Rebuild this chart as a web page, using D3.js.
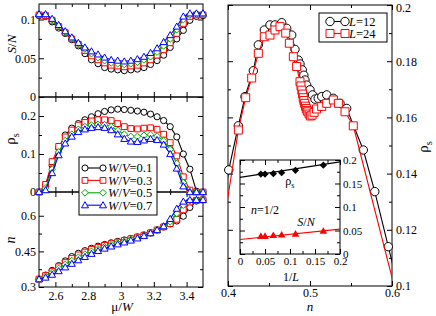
<!DOCTYPE html>
<html>
<head>
<meta charset="utf-8">
<script src="https://cdn.jsdelivr.net/npm/d3@7"></script>
<style>
  body { margin: 0; background: #fff; }
</style>
</head>
<body>
<div id="chart"></div>
<script>
// ---- data: left column, vs mu/W, four W/V values ----
var mu = [2.50, 2.54, 2.58, 2.62, 2.66, 2.70, 2.74, 2.78, 2.82, 2.86, 2.90, 2.94, 2.98,
          3.02, 3.06, 3.10, 3.14, 3.18, 3.22, 3.26, 3.30, 3.34, 3.38, 3.42, 3.46, 3.50];
var wvLabels = ["0.1", "0.3", "0.5", "0.7"];

var snW01 = [0.105,0.104,0.097,0.089,0.082,0.074,0.066,0.056,0.048,0.043,0.038,0.036,0.035,0.034,0.035,0.036,0.038,0.042,0.047,0.054,0.064,0.075,0.086,0.099,0.104,0.105];
var snW03 = [0.106,0.105,0.099,0.091,0.083,0.075,0.068,0.060,0.053,0.048,0.044,0.041,0.040,0.039,0.040,0.041,0.044,0.048,0.054,0.061,0.070,0.082,0.095,0.104,0.106,0.106];
var snW05 = [0.106,0.106,0.100,0.092,0.084,0.076,0.069,0.062,0.056,0.051,0.047,0.044,0.043,0.042,0.043,0.045,0.048,0.052,0.058,0.066,0.075,0.087,0.100,0.106,0.107,0.107];
var snW07 = [0.107,0.107,0.101,0.093,0.085,0.077,0.070,0.064,0.059,0.055,0.051,0.048,0.047,0.046,0.047,0.049,0.052,0.057,0.063,0.071,0.080,0.091,0.104,0.108,0.108,0.108];

var rhoW01 = [0.0,0.015,0.07,0.115,0.15,0.168,0.18,0.19,0.198,0.206,0.212,0.216,0.218,0.217,0.215,0.213,0.21,0.205,0.198,0.188,0.172,0.145,0.10,0.06,0.002,0.0];
var rhoW03 = [0.0,0.02,0.08,0.12,0.145,0.163,0.176,0.183,0.187,0.19,0.19,0.188,0.18,0.172,0.167,0.166,0.168,0.169,0.165,0.152,0.13,0.095,0.04,0.005,0.0,0.0];
var rhoW05 = [0.0,0.01,0.06,0.105,0.135,0.152,0.165,0.172,0.176,0.178,0.177,0.172,0.162,0.152,0.146,0.146,0.149,0.151,0.147,0.135,0.112,0.075,0.025,0.0,0.0,0.0];
var rhoW07 = [0.0,0.005,0.05,0.097,0.128,0.146,0.158,0.165,0.169,0.171,0.169,0.163,0.152,0.14,0.133,0.132,0.136,0.14,0.137,0.125,0.1,0.062,0.015,0.0,0.0,0.0];

var nW01 = [0.333,0.35,0.37,0.39,0.41,0.428,0.442,0.453,0.463,0.472,0.479,0.486,0.492,0.498,0.504,0.511,0.519,0.528,0.54,0.553,0.566,0.578,0.598,0.635,0.662,0.667];
var nW03 = [0.333,0.348,0.365,0.385,0.403,0.42,0.435,0.447,0.458,0.467,0.475,0.482,0.489,0.496,0.503,0.51,0.518,0.528,0.54,0.553,0.567,0.585,0.625,0.658,0.665,0.667];
var nW05 = [0.333,0.345,0.36,0.378,0.395,0.411,0.425,0.438,0.45,0.46,0.469,0.477,0.485,0.492,0.5,0.508,0.517,0.528,0.54,0.555,0.575,0.61,0.645,0.664,0.666,0.667];
var nW07 = [0.333,0.34,0.352,0.367,0.383,0.398,0.413,0.427,0.44,0.452,0.462,0.471,0.48,0.488,0.496,0.505,0.515,0.527,0.54,0.556,0.587,0.63,0.66,0.667,0.667,0.667];

// ---- data: right panel, rho_s vs n ----
var nL12 = [0.39,0.4009,0.4126,0.4207,0.4309,0.437,0.4443,0.4512,0.4573,0.4655,0.4716,0.4777,0.4817,0.4857,0.4878,0.4906,0.4925,0.4939,0.496,0.5,0.503,0.5061,0.51,0.5143,0.5204,0.5284,0.5366,0.5447,0.565,0.579,0.5955,0.61];
var rhoL12 = [0.118,0.1413,0.157,0.1674,0.1766,0.1858,0.1911,0.1929,0.1929,0.1937,0.1917,0.1893,0.1842,0.1804,0.179,0.1769,0.175,0.1733,0.1715,0.1698,0.168,0.1665,0.1668,0.1674,0.168,0.1668,0.165,0.1632,0.1484,0.1336,0.114,0.0967];
var nL24 = [0.39,0.4126,0.4216,0.4289,0.437,0.4443,0.4512,0.4573,0.4634,0.4704,0.4748,0.4797,0.4837,0.4878,0.489,0.49,0.491,0.4918,0.4925,0.4935,0.4945,0.4955,0.4965,0.4975,0.499,0.5005,0.5025,0.505,0.508,0.5143,0.5204,0.5285,0.5346,0.5427,0.5528,0.61];
var rhoL24 = [0.113,0.1555,0.167,0.174,0.1828,0.1887,0.1893,0.1911,0.1923,0.19,0.1864,0.1816,0.1781,0.1727,0.1712,0.1697,0.1683,0.167,0.166,0.165,0.164,0.1632,0.1625,0.162,0.1612,0.1605,0.1608,0.1618,0.163,0.1639,0.165,0.1662,0.165,0.162,0.157,0.0916];
var lLabels = ["12", "24"];

// ---- data: inset, n=1/2 vs 1/L ----
var invL = [0.0417, 0.05, 0.0667, 0.0833, 0.111, 0.1667];
var insetRho = [0.170, 0.170, 0.171, 0.173, 0.178, 0.189];
var insetSN = [0.038, 0.038, 0.040, 0.041, 0.043, 0.049];
var fitX = [0, 0.2];
var fitRho = [0.163, 0.196];
var fitSN = [0.031, 0.053];

var W = 436, H = 316;
var serif = "Liberation Serif, DejaVu Serif, serif";

var svg = d3.select("#chart").append("svg")
    .attr("width", W)
    .attr("height", H)
    .attr("font-family", serif);

// scales
var muX = d3.scaleLinear().domain([2.5, 3.5]).range([39, 203]);
var snY = d3.scaleLinear().domain([0, 0.12]).range([97, 4]);
var rhoY = d3.scaleLinear().domain([0, 0.25]).range([192, 97]);
var nY = d3.scaleLinear().domain([0.3, 0.7]).range([287, 192]);

var nX = d3.scaleLinear().domain([0.4, 0.6]).range([228, 392]);
var rY = d3.scaleLinear().domain([0.1, 0.2]).range([286, 5]);

var inX = d3.scaleLinear().domain([0, 0.2]).range([240, 340]);
var inY = d3.scaleLinear().domain([0, 0.2]).range([254, 160]);

function fmt(d) { return String(+d.toFixed(3)); }

// marker shapes (xmgrace-like)
function sym(shape, s) {
    if (shape == "circle")
        return "M" + (-s) + ",0A" + s + "," + s + " 0 1,0 " + s + ",0A" + s + "," + s + " 0 1,0 " + (-s) + ",0Z";
    if (shape == "square")
        return "M" + (-s) + "," + (-s) + "h" + (2 * s) + "v" + (2 * s) + "h" + (-2 * s) + "Z";
    if (shape == "diamond")
        return "M0," + (-s) + "L" + s + ",0L0," + s + "L" + (-s) + ",0Z";
    // triangle up
    return "M0," + (-s) + "L" + s + "," + (0.75 * s) + "L" + (-s) + "," + (0.75 * s) + "Z";
}

// box with inward ticks on all four sides
function frame(x, y, o) {
    var g = svg.append("g");
    var x0 = x.range()[0], x1 = x.range()[1], y0 = y.range()[0], y1 = y.range()[1];
    g.append("rect")
        .attr("x", x0).attr("y", y1)
        .attr("width", x1 - x0).attr("height", y0 - y1)
        .attr("fill", o.fill || "none")
        .attr("stroke", "#000");
    function ax(axis, tr, vals, size, labels, pad) {
        var a = g.append("g").attr("transform", tr)
            .call(axis.tickValues(vals).tickSize(size).tickPadding(pad).tickFormat(labels ? fmt : ""));
        a.select(".domain").remove();
        a.attr("font-family", serif).attr("font-size", o.fs);
        if (!labels) a.selectAll("text").remove();
        return a;
    }
    var xb = ax(d3.axisBottom(x), "translate(0," + y0 + ")", o.xMajor, -5, o.xLab, o.xPad);
    ax(d3.axisBottom(x), "translate(0," + y0 + ")", o.xMinor, -3, false, 0);
    ax(d3.axisTop(x), "translate(0," + y1 + ")", o.xMajor, -5, false, 0);
    ax(d3.axisTop(x), "translate(0," + y1 + ")", o.xMinor, -3, false, 0);
    var yl = ax(d3.axisLeft(y), "translate(" + x0 + ",0)", o.yMajor, -5, o.yLab == "left", o.yPad);
    ax(d3.axisLeft(y), "translate(" + x0 + ",0)", o.yMinor, -3, false, 0);
    var yr = ax(d3.axisRight(y), "translate(" + x1 + ",0)", o.yMajor, -5, o.yLab == "right", o.yPad);
    ax(d3.axisRight(y), "translate(" + x1 + ",0)", o.yMinor, -3, false, 0);
    return {g: g, xb: xb, yl: yl, yr: yr};
}

// one data set: line + markers
function series(xs, ys, x, y, color, shape, size, fill, clipId) {
    var pts = xs.map(function(v, i) { return [v, ys[i]]; });
    var line = d3.line()
        .x(function(d) { return x(d[0]); })
        .y(function(d) { return y(d[1]); });
    var p = svg.append("path").datum(pts)
        .attr("d", line)
        .attr("fill", "none")
        .attr("stroke", color)
        .attr("stroke-width", 1.1);
    if (clipId) p.attr("clip-path", "url(#" + clipId + ")");
    var xd = x.domain(), yd = y.domain();
    svg.append("g").selectAll("path")
        .data(pts.filter(function(d) {
            return d[0] >= xd[0] && d[0] <= xd[1] && d[1] >= yd[0] && d[1] <= yd[1];
        }))
        .join("path")
        .attr("transform", function(d) { return "translate(" + x(d[0]) + "," + y(d[1]) + ")"; })
        .attr("d", sym(shape, size))
        .attr("fill", fill)
        .attr("stroke", color)
        .attr("stroke-width", 1);
}

// text helper: parts = [[string, style], ...]
function rich(x, y, parts, fs, rot, anchor) {
    var t = svg.append("text")
        .attr("font-size", fs)
        .attr("text-anchor", anchor || "start");
    if (rot) t.attr("transform", "translate(" + x + "," + y + ") rotate(-90)");
    else t.attr("x", x).attr("y", y);
    parts.forEach(function(p) {
        var s = t.append("tspan").text(p[0]);
        if (p[1] == "i") s.attr("font-style", "italic");
        if (p[1] == "sub") s.attr("font-size", fs * 0.7).attr("dy", fs * 0.25);
    });
    return t;
}

var colors = ["#000000", "#ff0000", "#00aa00", "#0000ff"];
var shapes = ["circle", "square", "diamond", "triangle"];
var sizes = [3.1, 2.9, 3.4, 3.5];

// ---- left column ----
var leftTicks = {xMajor: [2.6, 2.8, 3, 3.2, 3.4], xMinor: [2.7, 2.9, 3.1, 3.3], fs: 12, xPad: 4, yPad: 3, yLab: "left"};

frame(muX, snY, Object.assign({}, leftTicks, {yMajor: [0, 0.05, 0.1], yMinor: [0.025, 0.075], xLab: false}));
frame(muX, rhoY, Object.assign({}, leftTicks, {yMajor: [0, 0.1, 0.2], yMinor: [0.05, 0.15], xLab: false}));
frame(muX, nY, Object.assign({}, leftTicks, {yMajor: [0.3, 0.45, 0.6], yMinor: [0.375, 0.525], xLab: true}));

[snW01, snW03, snW05, snW07].forEach(function(s, i) {
    series(mu, s, muX, snY, colors[i], shapes[i], sizes[i], "#fff");
});
[rhoW01, rhoW03, rhoW05, rhoW07].forEach(function(s, i) {
    series(mu, s, muX, rhoY, colors[i], shapes[i], sizes[i], "#fff");
});
[nW01, nW03, nW05, nW07].forEach(function(s, i) {
    series(mu, s, muX, nY, colors[i], shapes[i], sizes[i], "#fff");
});

rich(16, 44, [["S", "i"], ["/", ""], ["N", "i"]], 13, true, "middle");
rich(15, 139, [["ρ", ""], ["s", "sub"]], 15, true, "middle");
rich(15, 240, [["n", "i"]], 14, true, "middle");
rich(122, 311, [["μ/", ""], ["W", "i"]], 13, false, "middle");

// left legend
svg.append("rect")
    .attr("x", 79).attr("y", 157).attr("width", 78).attr("height", 58)
    .attr("fill", "#fff").attr("stroke", "#000");
wvLabels.forEach(function(lab, i) {
    var ly = 168 + i * 12.4;
    svg.append("line")
        .attr("x1", 85).attr("x2", 103).attr("y1", ly).attr("y2", ly)
        .attr("stroke", colors[i]).attr("stroke-width", 1.1);
    [85, 103].forEach(function(mx) {
        svg.append("path")
            .attr("transform", "translate(" + mx + "," + ly + ")")
            .attr("d", sym(shapes[i], sizes[i]))
            .attr("fill", "#fff").attr("stroke", colors[i]);
    });
    rich(108, ly + 4.3, [["W", "i"], ["/", ""], ["V", "i"], ["=" + lab, ""]], 12.5);
});

// ---- right panel ----
svg.append("clipPath").attr("id", "rclip")
    .append("rect").attr("x", 228).attr("y", 5).attr("width", 164).attr("height", 281);

var rf = frame(nX, rY, {xMajor: [0.4, 0.5, 0.6], xMinor: [0.45, 0.55],
               yMajor: [0.1, 0.12, 0.14, 0.16, 0.18, 0.2], yMinor: [0.11, 0.13, 0.15, 0.17, 0.19],
               fs: 12, xPad: 2, yPad: 4, xLab: true, yLab: "right"});
// keep the top label inside the picture
rf.yr.selectAll("text").filter(function(d) { return d == 0.2; }).attr("dy", "0.5em");

series(nL12, rhoL12, nX, rY, "#000000", "circle", 4.2, "#fff", "rclip");
series(nL24, rhoL24, nX, rY, "#ff0000", "square", 4, "#fff", "rclip");

rich(310, 311, [["n", "i"]], 13, false, "middle");
rich(428, 147, [["ρ", ""], ["s", "sub"]], 15, true, "middle");

// right legend
svg.append("rect")
    .attr("x", 319).attr("y", 13).attr("width", 68).attr("height", 29)
    .attr("fill", "#fff").attr("stroke", "#000");
lLabels.forEach(function(lab, i) {
    var ly = 21.5 + i * 12;
    var c = i == 0 ? "#000000" : "#ff0000";
    svg.append("line")
        .attr("x1", 330).attr("x2", 345).attr("y1", ly).attr("y2", ly)
        .attr("stroke", c).attr("stroke-width", 1.1);
    [330, 345].forEach(function(mx) {
        svg.append("path")
            .attr("transform", "translate(" + mx + "," + ly + ")")
            .attr("d", sym(i == 0 ? "circle" : "square", i == 0 ? 4.2 : 4))
            .attr("fill", "#fff").attr("stroke", c);
    });
    rich(349, ly + 4.3, [["L", "i"], ["=" + lab, ""]], 12.5);
});

// ---- inset ----
frame(inX, inY, {xMajor: [0, 0.05, 0.1, 0.15, 0.2], xMinor: [0.025, 0.075, 0.125, 0.175],
                 yMajor: [0, 0.05, 0.1, 0.15, 0.2], yMinor: [0.025, 0.075, 0.125, 0.175],
                 fs: 11, xPad: 3, yPad: 3, xLab: true, yLab: "right", fill: "#fff"});

svg.append("path").datum(fitX.map(function(v, i) { return [v, fitRho[i]]; }))
    .attr("d", d3.line().x(function(d) { return inX(d[0]); }).y(function(d) { return inY(d[1]); }))
    .attr("stroke", "#000").attr("stroke-width", 1.1).attr("fill", "none");
svg.append("path").datum(fitX.map(function(v, i) { return [v, fitSN[i]]; }))
    .attr("d", d3.line().x(function(d) { return inX(d[0]); }).y(function(d) { return inY(d[1]); }))
    .attr("stroke", "#ff0000").attr("stroke-width", 1.1).attr("fill", "none");

svg.append("g").selectAll("path")
    .data(invL)
    .join("path")
    .attr("transform", function(d, i) { return "translate(" + inX(d) + "," + inY(insetRho[i]) + ")"; })
    .attr("d", sym("diamond", 3.6))
    .attr("fill", "#000");
svg.append("g").selectAll("path")
    .data(invL)
    .join("path")
    .attr("transform", function(d, i) { return "translate(" + inX(d) + "," + inY(insetSN[i]) + ")"; })
    .attr("d", sym("triangle", 3.8))
    .attr("fill", "#ff0000");

rich(290, 185, [["ρ", ""], ["s", "sub"]], 12, false, "middle");
rich(251, 214, [["n", "i"], ["=1/2", ""]], 12);
rich(306, 226, [["S", "i"], ["/", ""], ["N", "i"]], 12, false, "middle");
rich(291, 281, [["1/", ""], ["L", "i"]], 12, false, "middle");
</script>
</body>
</html>
